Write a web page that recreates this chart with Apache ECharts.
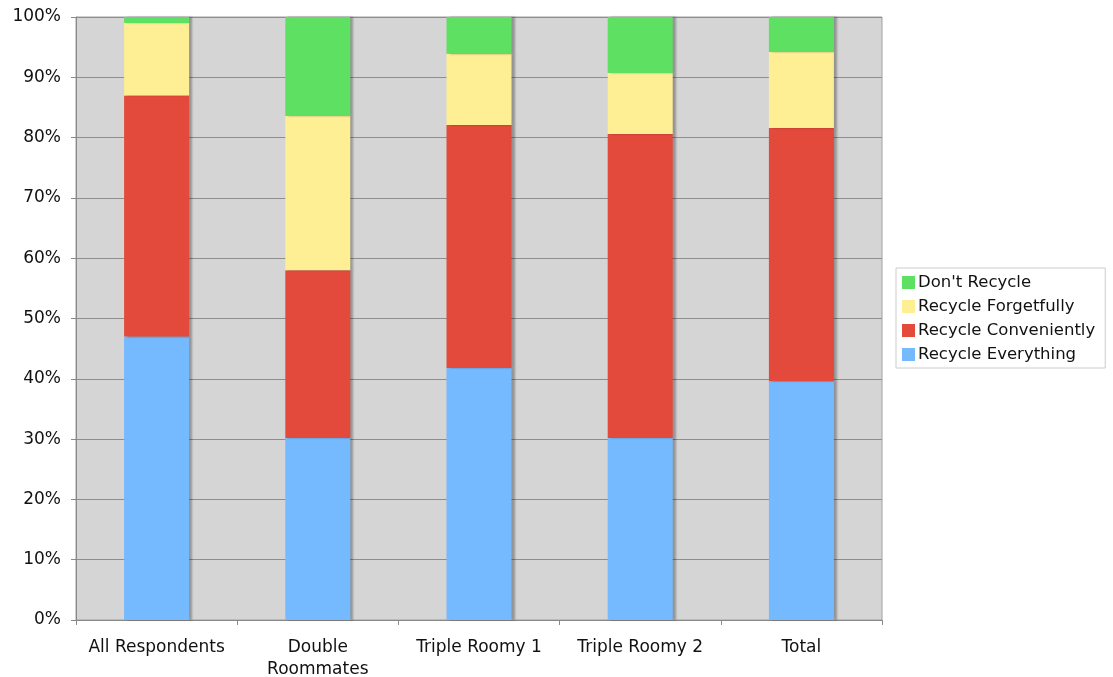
<!DOCTYPE html>
<html><head><meta charset="utf-8">
<script src="https://cdn.jsdelivr.net/npm/echarts@6/dist/echarts.min.js"></script>
<style>html,body{margin:0;padding:0;background:#fff}#c{width:1113px;height:677px}</style>
</head><body><div id="c"></div>
<script>
const categories = ['All Respondents', 'Double\nRoommates', 'Triple Roomy 1', 'Triple Roomy 2', 'Total'];
const recycleEverything = [47, 30.2, 41.8, 30.2, 39.6];
const recycleConveniently = [40, 27.8, 40.3, 50.4, 42];
const recycleForgetfully = [12, 25.6, 11.8, 10.1, 12.6];
const dontRecycle = [1, 16.4, 6.1, 9.3, 5.8];
const yTicks = ['0%','10%','20%','30%','40%','50%','60%','70%','80%','90%','100%'];

const font = 'DejaVu Sans, Verdana, sans-serif';
const itemStyleBase = {shadowColor:'rgba(0,0,0,0.3)', shadowOffsetX:3, shadowOffsetY:0, shadowBlur:2};
function mk(name, data, color){
  return {name, type:'bar', stack:'s', data, barWidth:65,
    itemStyle:Object.assign({color}, itemStyleBase), emphasis:{disabled:true}};
}
const chart = echarts.init(document.getElementById('c'));
chart.setOption({
  animation:false,
  grid:{left:76, right:231, top:17, bottom:57, outerBoundsMode:'none', containLabel:false, show:true, backgroundColor:'#d5d5d5', borderColor:'#a0a0a0', borderWidth:1},
  legend:{orient:'vertical', left:896, top:268, data:["Don't Recycle",'Recycle Forgetfully','Recycle Conveniently','Recycle Everything'],
    backgroundColor:'#fff', borderColor:'#ccc', borderWidth:1, padding:[6,10,5,6], itemGap:7,
    itemWidth:13, itemHeight:13, icon:'rect',
    textStyle:{fontFamily:font, fontSize:16.5, color:'#111', padding:[0,0,0,-2]}},
  xAxis:{type:'category', data:categories,
    axisLine:{lineStyle:{color:'#888', width:1}},
    axisTick:{show:true, interval:0, length:5, lineStyle:{color:'#888'}},
    axisLabel:{interval:0, fontFamily:font, fontSize:17, color:'#111', margin:17, lineHeight:22}},
  yAxis:{type:'value', min:0, max:100, interval:10,
    axisLine:{show:true, lineStyle:{color:'#888', width:1}},
    axisTick:{show:true, length:5, lineStyle:{color:'#888'}},
    splitLine:{lineStyle:{color:'#8e8e8e', width:1}},
    axisLabel:{fontFamily:font, fontSize:17, color:'#111', margin:15, formatter:(v)=>yTicks[Math.round(v/10)]}},
  series:[
    mk('Recycle Everything', recycleEverything, '#75b9fe'),
    mk('Recycle Conveniently', recycleConveniently, '#e34a3b'),
    mk('Recycle Forgetfully', recycleForgetfully, '#feee94'),
    mk("Don't Recycle", dontRecycle, '#5ee062')
  ]
});
</script></body></html>
